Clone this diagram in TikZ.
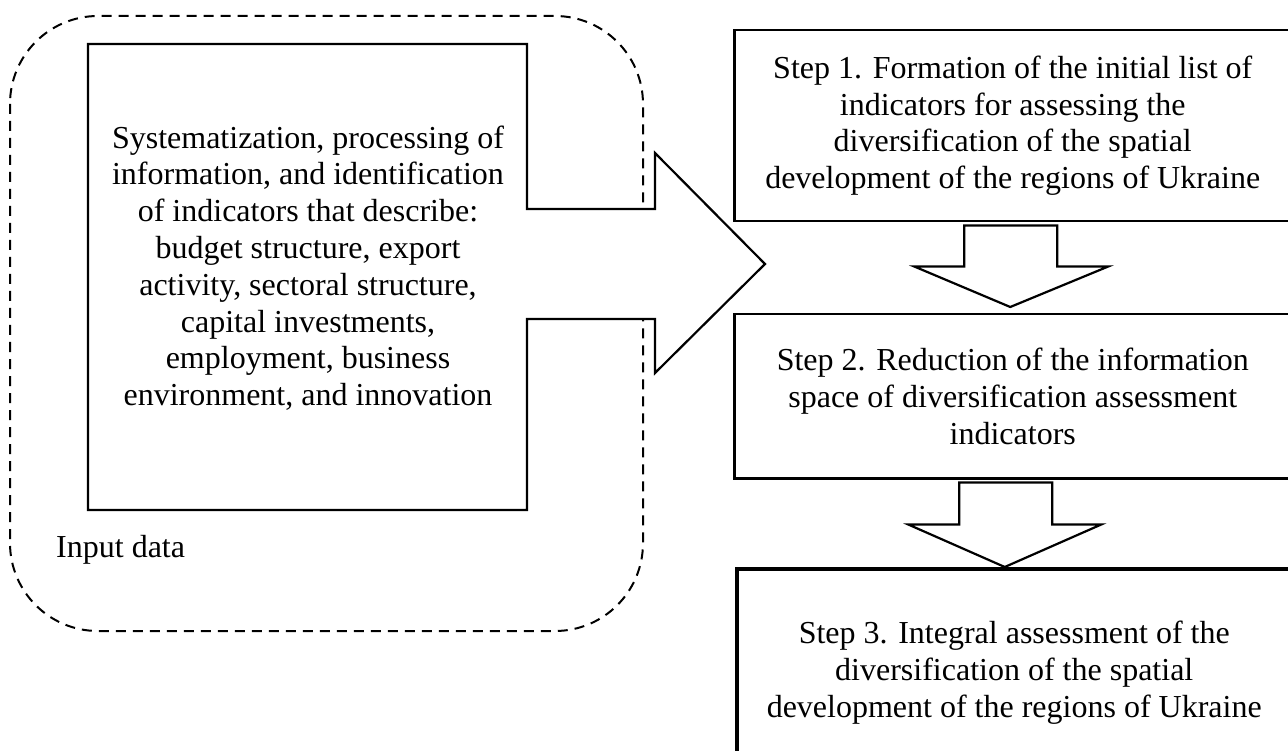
\documentclass[tikz,border=0pt]{standalone}
\usepackage{fontspec}
\setmainfont{Liberation Serif}
\usetikzlibrary{calc}
\begin{document}
\begin{tikzpicture}[x=1pt,y=-1pt,line join=miter,
  txt/.style={font=\fontsize{32}{36.8}\selectfont,align=center,inner sep=0pt},
  stepbox/.style={draw,line width=2.5pt,txt,anchor=north west},
  finalbox/.style={draw,line width=3.5pt,txt,anchor=north west},
  dashregion/.style={draw,line width=2pt,dash pattern=on 10pt off 7pt,rounded corners=88pt},
  outline/.style={draw,line width=2.2pt,fill=white},
  blockarrow/.style={draw,line width=2.2pt,fill=white}]
\useasboundingbox (0,0) rectangle (1288,751);
\clip (0,0) rectangle (1288,751);

% input data region
\draw[dashregion] (10,16) rectangle (643,631);
\node[txt,anchor=base west] (input) at (56,557) {Input data};

% left box merged with big arrow
\draw[outline] (88,44) -- (527,44) -- (527,209) -- (655,209) -- (655,153)
  -- (765,264) coordinate (tip) -- (655,373) -- (655,319) -- (527,319)
  -- (527,510) -- (88,510) -- cycle;
\node[txt] (sys) at (308,268) {Systematization, processing of\\
information, and identification\\
of indicators that describe:\\
budget structure, export\\
activity, sectoral structure,\\
capital investments,\\
employment, business\\
environment, and innovation};

% step boxes
\node[stepbox,minimum width=557pt,minimum height=191pt] (s1) at (733,29)
  {Step 1. Formation of the initial list of\\
   indicators for assessing the\\
   diversification of the spatial\\
   development of the regions of Ukraine};
\node[stepbox,minimum width=557pt,minimum height=164pt] (s2) at (733,313)
  {Step 2. Reduction of the information\\
   space of diversification assessment\\
   indicators};
\node[finalbox,minimum width=555pt,minimum height=208pt] (s3) at (735,567)
  {Step 3. Integral assessment of the\\
   diversification of the spatial\\
   development of the regions of Ukraine};

% block arrows between steps
\draw[blockarrow] ($(s1.south)+(-48.5,3)$) -- ($(s1.south)+(-48.5,44)$)
  -- ($(s1.south)+(-98.5,44)$) -- ($(s2.north)+(-2.5,-6)$)
  -- ($(s1.south)+(95.5,44)$) -- ($(s1.south)+(44.5,44)$)
  -- ($(s1.south)+(44.5,3)$) -- cycle;
\draw[blockarrow] ($(s2.south)+(-53.5,3)$) -- ($(s2.south)+(-53.5,45)$)
  -- ($(s2.south)+(-104.5,45)$) -- ($(s3.north)+(-9.5,0)$)
  -- ($(s2.south)+(88.5,45)$) -- ($(s2.south)+(39.5,45)$)
  -- ($(s2.south)+(39.5,3)$) -- cycle;
\end{tikzpicture}
\end{document}
